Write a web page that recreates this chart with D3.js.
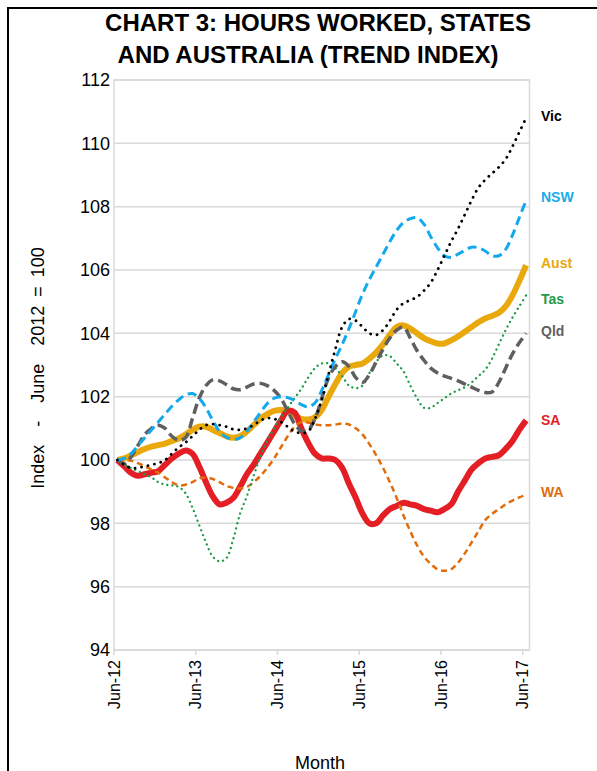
<!DOCTYPE html>
<html>
<head>
<meta charset="utf-8">
<script src="https://cdn.jsdelivr.net/npm/d3@7.9.0/dist/d3.min.js"></script>
<style>
  html, body { margin: 0; padding: 0; background: #fff; }
  svg { display: block; }
  text { font-family: "Liberation Sans", Arial, sans-serif; }
</style>
</head>
<body>
<svg id="chart" width="597" height="771"></svg>
<script>
// monthly trend index, Jun-12 .. Jun-17 (61 months)
const tickLabels = ['Jun-12', 'Jun-13', 'Jun-14', 'Jun-15', 'Jun-16', 'Jun-17'];
const yTicks = [94, 96, 98, 100, 102, 104, 106, 108, 110, 112];

const vic = [100, 99.85, 99.75, 99.75, 99.8, 99.85, 99.9, 100.0, 100.2, 100.4, 100.55, 100.75,
  100.95, 101.1, 101.13, 101.1, 101.05, 100.97, 100.95, 101.0, 101.1, 101.25, 101.32, 101.3,
  101.2, 101.05, 100.9, 100.85, 100.9, 101.3, 101.9, 102.7, 103.5, 104.2, 104.45, 104.4,
  104.2, 104.0, 103.95, 104.1, 104.4, 104.75, 104.95, 105.05, 105.15, 105.35, 105.6, 106.0,
  106.45, 106.9, 107.3, 107.75, 108.2, 108.6, 108.85, 109.05, 109.25, 109.5, 109.9, 110.35, 110.8];

const nsw = [100, 100.05, 100.2, 100.45, 100.7, 100.95, 101.2, 101.45, 101.7, 101.9, 102.05, 102.1,
  101.95, 101.65, 101.25, 100.9, 100.72, 100.65, 100.7, 100.9, 101.2, 101.5, 101.78, 101.95,
  102.0, 101.97, 101.88, 101.75, 101.68, 101.8, 102.2, 102.7, 103.2, 103.65, 104.15, 104.7,
  105.25, 105.7, 106.1, 106.5, 106.9, 107.25, 107.5, 107.62, 107.65, 107.45, 107.05, 106.7,
  106.45, 106.4, 106.5, 106.62, 106.72, 106.7, 106.6, 106.45, 106.45, 106.65, 107.1, 107.65, 108.2];

const aust = [100, 100.05, 100.15, 100.25, 100.35, 100.42, 100.47, 100.52, 100.6, 100.68, 100.8, 100.95,
  101.05, 101.05, 100.95, 100.85, 100.75, 100.7, 100.75, 100.9, 101.1, 101.3, 101.45, 101.55,
  101.58, 101.55, 101.4, 101.3, 101.28, 101.35, 101.58, 102.0, 102.4, 102.75, 102.95, 103.0,
  103.05, 103.2, 103.4, 103.65, 103.95, 104.2, 104.25, 104.15, 104.0, 103.85, 103.75, 103.68,
  103.68, 103.78, 103.9, 104.05, 104.2, 104.35, 104.47, 104.55, 104.65, 104.85, 105.2, 105.65, 106.15];

const tas = [100, 99.85, 99.75, 99.65, 99.55, 99.45, 99.3, 99.22, 99.2, 99.15, 98.95, 98.5,
  97.95, 97.4, 96.95, 96.8, 96.9, 97.5, 98.3, 98.85, 99.5, 100.1, 100.6, 101.0,
  101.35, 101.65, 101.95, 102.25, 102.6, 102.9, 103.05, 103.05, 102.9, 102.65, 102.35, 102.27,
  102.35, 102.75, 103.1, 103.3, 103.28, 103.05, 102.8, 102.35, 101.95, 101.65, 101.65, 101.8,
  101.95, 102.1, 102.2, 102.3, 102.45, 102.65, 102.85, 103.2, 103.65, 104.1, 104.5, 104.85, 105.2];

const qld = [100, 99.88, 100.1, 100.45, 100.8, 101.0, 101.1, 101.0, 100.75, 100.62, 100.7, 101.3,
  101.95, 102.35, 102.53, 102.5, 102.38, 102.25, 102.22, 102.3, 102.4, 102.42, 102.35, 102.2,
  101.95, 101.55, 101.15, 100.92, 100.95, 101.3, 101.95, 102.6, 102.95, 103.1, 102.95, 102.6,
  102.45, 102.7, 103.1, 103.5, 103.85, 104.1, 104.2, 103.85, 103.45, 103.15, 102.9, 102.75,
  102.65, 102.58, 102.5, 102.4, 102.3, 102.2, 102.13, 102.15, 102.45, 102.9, 103.35, 103.7, 104.0];

const sa = [100, 99.8, 99.6, 99.5, 99.55, 99.6, 99.65, 99.85, 100.05, 100.2, 100.3, 100.2,
  99.8, 99.3, 98.85, 98.6, 98.65, 98.8, 99.15, 99.55, 99.85, 100.2, 100.55, 100.9,
  101.25, 101.55, 101.5, 101.0, 100.55, 100.2, 100.05, 100.05, 100.0, 99.75, 99.25, 98.8,
  98.3, 98.0, 98.0, 98.25, 98.45, 98.55, 98.65, 98.6, 98.55, 98.45, 98.4, 98.35,
  98.45, 98.6, 99.0, 99.35, 99.7, 99.9, 100.05, 100.1, 100.15, 100.35, 100.6, 100.95, 101.25];

const wa = [100, 100.0, 99.98, 99.9, 99.8, 99.7, 99.6, 99.45, 99.3, 99.2, 99.22, 99.3,
  99.42, 99.45, 99.4, 99.3, 99.18, 99.12, 99.1, 99.15, 99.3, 99.5, 99.75, 100.05,
  100.4, 100.75, 101.05, 101.2, 101.18, 101.12, 101.1, 101.1, 101.12, 101.15, 101.12, 101.0,
  100.8, 100.5, 100.15, 99.75, 99.3, 98.8, 98.25, 97.75, 97.3, 96.95, 96.72, 96.55,
  96.5, 96.55, 96.75, 97.05, 97.4, 97.75, 98.1, 98.3, 98.45, 98.6, 98.72, 98.82, 98.9];

const series = [
  { name: 'Aust', values: aust, color: '#E9A80B', width: 6, dash: null, labelY: 263 },
  { name: 'SA', values: sa, color: '#E31E25', width: 6, dash: null, labelY: 420 },
  { name: 'WA', values: wa, color: '#E36C0A', width: 2.5, dash: '6 4', labelY: 492 },
  { name: 'Tas', values: tas, color: '#1E9A48', width: 2.3, dash: '0.1 5', cap: 'round', labelY: 299 },
  { name: 'Qld', values: qld, color: '#5F5F5F', width: 3.5, dash: '10 5', labelY: 331 },
  { name: 'NSW', values: nsw, color: '#14A9EE', width: 3, dash: '9 5', labelY: 197 },
  { name: 'Vic', values: vic, color: '#000000', width: 2.8, dash: '0.1 6.5', cap: 'round', labelY: 116 }
];
const labelColors = { Vic: '#000', NSW: '#1AABEB', Aust: '#E9A80B', Tas: '#1E9A48', Qld: '#5F5F5F', SA: '#E31E25', WA: '#E36C0A' };

const svg = d3.select('#chart');
const plot = { left: 114, right: 529.5, top: 80, bottom: 650 };
const nMonths = aust.length;

const x = d3.scaleLinear().domain([0, nMonths]).range([plot.left, plot.right]);
const y = d3.scaleLinear().domain([94, 112]).range([plot.bottom, plot.top]);

// outer frame
svg.append('line').attr('x1', 7).attr('x2', 597).attr('y1', 8).attr('y2', 8)
  .attr('stroke', '#000').attr('stroke-width', 2);
svg.append('line').attr('x1', 8).attr('x2', 8).attr('y1', 7).attr('y2', 771)
  .attr('stroke', '#000').attr('stroke-width', 2);

// title
const title = svg.append('text').attr('font-weight', 'bold').attr('font-size', 24)
  .attr('text-anchor', 'middle').attr('fill', '#000');
title.append('tspan').attr('x', 318).attr('y', 31).text('CHART 3: HOURS WORKED, STATES');
title.append('tspan').attr('x', 308).attr('y', 63).text('AND AUSTRALIA  (TREND INDEX)');

// gridlines
svg.append('g').selectAll('line').data(yTicks).join('line')
  .attr('x1', plot.left).attr('x2', plot.right)
  .attr('y1', d => y(d)).attr('y2', d => y(d))
  .attr('stroke', '#D9D9D9').attr('stroke-width', 1.5);

svg.append('rect').attr('x', plot.left).attr('y', plot.top)
  .attr('width', plot.right - plot.left).attr('height', plot.bottom - plot.top)
  .attr('fill', 'none').attr('stroke', '#D9D9D9').attr('stroke-width', 1.5);

// y axis labels
svg.append('g').selectAll('text').data(yTicks).join('text')
  .attr('x', 110).attr('y', d => y(d)).attr('dy', '0.35em')
  .attr('text-anchor', 'end').attr('font-size', 18).attr('fill', '#000')
  .text(d => d);

// x axis ticks + labels
const xTickIdx = tickLabels.map((_, i) => i * 12);
const xAxis = svg.append('g');
xAxis.selectAll('line').data(xTickIdx).join('line')
  .attr('x1', d => x(d)).attr('x2', d => x(d))
  .attr('y1', plot.bottom).attr('y2', plot.bottom + 5)
  .attr('stroke', '#D9D9D9').attr('stroke-width', 1.5);
xAxis.selectAll('text').data(xTickIdx).join('text')
  .attr('transform', d => `translate(${x(d)},${plot.bottom + 10}) rotate(-90)`)
  .attr('dy', '0.35em').attr('text-anchor', 'end')
  .attr('font-size', 16).attr('fill', '#000')
  .text((d, i) => tickLabels[i]);

// axis titles
svg.append('text').attr('x', 320).attr('y', 769).attr('text-anchor', 'middle')
  .attr('font-size', 18).attr('fill', '#000').text('Month');
svg.append('text').attr('transform', 'translate(44,368) rotate(-90)')
  .attr('text-anchor', 'middle').attr('font-size', 18).attr('fill', '#000')
  .attr('word-spacing', 4)
  .style('white-space', 'pre').text('Index  -  June  2012 = 100');

// lines
const line = d3.line()
  .x((d, i) => x(i + 0.5))
  .y(d => y(d))
  .curve(d3.curveCatmullRom.alpha(0.5));

svg.append('g').selectAll('path').data(series).join('path')
  .attr('d', d => line(d.values))
  .attr('fill', 'none')
  .attr('stroke', d => d.color)
  .attr('stroke-width', d => d.width)
  .attr('stroke-dasharray', d => d.dash)
  .attr('stroke-linecap', d => d.cap || 'butt')
  .attr('stroke-linejoin', 'round');

// series labels
svg.append('g').selectAll('text').data(series).join('text')
  .attr('x', 541).attr('y', d => d.labelY).attr('dy', '0.35em')
  .attr('font-family', '"Open Sans", "Noto Sans", sans-serif')
  .attr('font-weight', 'bold').attr('font-size', 14)
  .attr('fill', d => labelColors[d.name])
  .text(d => d.name);
</script>
</body>
</html>
